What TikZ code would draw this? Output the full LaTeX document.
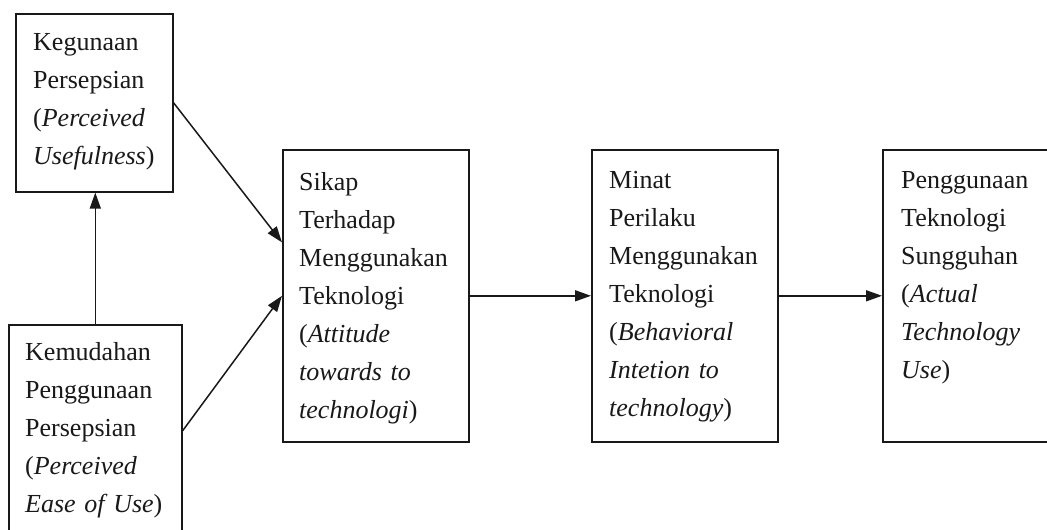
\documentclass[tikz,border=0pt]{standalone}
\usepackage{fontspec}
\setmainfont{Liberation Serif}
\usetikzlibrary{arrows.meta,calc}
\begin{document}
\begin{tikzpicture}[x=1pt,y=-1pt,
  boxstyle/.style={draw=black!90, line width=1.6pt, rectangle, inner sep=0pt, anchor=north west},
  txt/.style={anchor=base west, inner sep=0pt, text width=220pt, align=left, font=\fontsize{26}{38}\selectfont, text=black!90},
  conn/.style={draw=black!90, line width=1.5pt, -{Triangle[length=16pt,width=11pt]}}]
\useasboundingbox (0,0) rectangle (1047,530);
\clip (0,0) rectangle (1047,530);
\fill[white] (0,0) rectangle (1047,530);
% boxes
\node[boxstyle, minimum width=157pt, minimum height=178pt] (b1) at (15,13) {};
\node[boxstyle, minimum width=173pt, minimum height=212pt] (b2) at (8,324) {};
\node[boxstyle, minimum width=186pt, minimum height=292pt] (b3) at (282,149) {};
\node[boxstyle, minimum width=186pt, minimum height=292pt] (b4) at (591,149) {};
\node[boxstyle, minimum width=180pt, minimum height=292pt] (b5) at (882,149) {};
% texts
\node[txt] (t1) at (33,50) {Kegunaan\\Persepsian\\(\textit{Perceived}\\\textit{Usefulness})};
\node[txt] (t2) at (25,360) {Kemudahan\\Penggunaan\\Persepsian\\(\textit{Perceived}\\\textit{Ease of Use})};
\node[txt] (t3) at (299,190) {Sikap\\Terhadap\\Menggunakan\\Teknologi\\(\textit{Attitude}\\\textit{towards to}\\\textit{technologi})};
\node[txt] (t4) at (609,188) {Minat\\Perilaku\\Menggunakan\\Teknologi\\(\textit{Behavioral}\\\textit{Intetion to}\\\textit{technology})};
\node[txt] (t5) at (901,188) {Penggunaan\\Teknologi\\Sungguhan\\(\textit{Actual}\\\textit{Technology}\\\textit{Use})};
% connectors
\coordinate (b3in) at ($(b3.north west)!0.318!(b3.south west)$);
\draw[conn] (b1.east) -- (b3in);
\draw[conn] (b2.east) -- (b3.west);
\draw[conn] (b2.north) -- (b2.north |- b1.south);
\draw[conn] (b3.east) -- (b4.west);
\draw[conn] (b4.east) -- (b5.west);
\end{tikzpicture}
\end{document}
